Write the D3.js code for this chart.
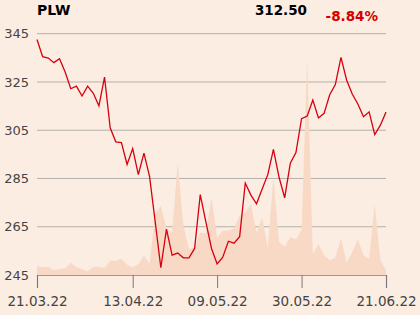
<!DOCTYPE html>
<html>
<head>
<meta charset="utf-8">
<script src="https://cdn.jsdelivr.net/npm/d3@7/dist/d3.min.js"></script>
<style>
  html, body { margin: 0; padding: 0; background: #fcede2; }
  svg { display: block; font-family: "DejaVu Sans", sans-serif; }
</style>
</head>
<body>
<svg id="chart" width="420" height="315"></svg>
<script>
// data
var ticker = 'PLW';
var lastPrice = '312.50';
var change = '-8.84%';

var dates = [
  '21.03.22','22.03.22','23.03.22','24.03.22','25.03.22','28.03.22','29.03.22','30.03.22','31.03.22',
  '01.04.22','04.04.22','05.04.22','06.04.22','07.04.22','08.04.22','11.04.22','12.04.22','13.04.22',
  '14.04.22','19.04.22','20.04.22','21.04.22','22.04.22','25.04.22','26.04.22','27.04.22','28.04.22','29.04.22',
  '02.05.22','04.05.22','05.05.22','06.05.22','09.05.22','10.05.22','11.05.22','12.05.22','13.05.22',
  '16.05.22','17.05.22','18.05.22','19.05.22','20.05.22','23.05.22','24.05.22','25.05.22','26.05.22','27.05.22',
  '30.05.22','31.05.22','01.06.22','02.06.22','03.06.22','06.06.22','07.06.22','08.06.22','09.06.22','10.06.22',
  '13.06.22','14.06.22','15.06.22','17.06.22','20.06.22','21.06.22'
];

var prices = [
  342.6, 335.5, 334.9, 333.0, 334.6, 329.1, 322.2, 323.3, 319.2,
  323.3, 320.3, 315.1, 327.0, 306.0, 300.2, 299.9, 290.8, 297.4,
  286.6, 295.5, 285.8, 267.0, 248.0, 264.0, 253.2, 254.1, 252.1, 252.1,
  256.0, 278.3, 267.0, 256.0, 249.6, 252.4, 259.0, 258.2, 260.9,
  283.1, 278.1, 274.5, 280.6, 286.6, 297.1, 285.5, 277.0, 291.3, 295.7,
  309.8, 310.9, 317.5, 310.1, 312.0, 319.7, 323.9, 335.2, 325.8, 320.0,
  315.9, 310.6, 312.6, 303.2, 307.1, 312.5
];

// volume, thousand shares
var volumes = [
  9.0, 7.7, 8.3, 5.0, 5.7, 6.7, 12.3, 7.7, 5.7,
  3.7, 8.3, 8.3, 7.0, 14.3, 14.3, 16.3, 10.3, 7.7,
  11.0, 19.5, 11.7, 61.7, 70.0, 47.0, 43.0, 113.7, 50.0, 26.0,
  28.3, 43.0, 42.0, 78.3, 37.7, 45.0, 45.0, 47.0, 60.0,
  63.0, 71.7, 43.0, 58.3, 27.5, 98.3, 33.5, 28.5, 38.0, 36.0,
  46.0, 218.0, 21.0, 31.0, 20.0, 15.0, 17.7, 37.0, 12.3, 23.0,
  36.3, 20.0, 16.3, 71.7, 15.0, 5.0
];

var yTicks = [245, 265, 285, 305, 325, 345];
var xTicks = ['21.03.22', '13.04.22', '09.05.22', '30.05.22', '21.06.22'];

var data = dates.map(function(d, i) {
  return { date: d, price: prices[i], volume: volumes[i] };
});

// layout
var plotLeft = 37, plotRight = 386, plotTop = 33.7, plotBottom = 275;

var svg = d3.select('#chart');

var x = d3.scalePoint()
  .domain(dates)
  .range([plotLeft, plotRight]);

var y = d3.scaleLinear()
  .domain([245, 345])
  .range([plotBottom, plotTop]);

var yVol = d3.scaleLinear()
  .domain([0, 220])
  .range([plotBottom, 57]);

// gridlines
svg.append('g')
  .selectAll('line')
  .data(yTicks.slice(1))
  .enter()
  .append('line')
  .attr('x1', plotLeft)
  .attr('x2', plotRight)
  .attr('y1', function(d){ return y(d) })
  .attr('y2', function(d){ return y(d) })
  .attr('stroke', '#b5b0ab')
  .attr('stroke-width', 1);

// volume area
var area = d3.area()
  .x(function(d){ return x(d.date) })
  .y0(plotBottom)
  .y1(function(d){ return yVol(d.volume) });

svg.append('path')
  .datum(data)
  .attr('d', area)
  .attr('fill', '#f8d9c5');

// y axis labels
svg.append('g')
  .selectAll('text')
  .data(yTicks)
  .enter()
  .append('text')
  .attr('x', 29)
  .attr('y', function(d){ return y(d) })
  .attr('dy', '0.36em')
  .attr('text-anchor', 'end')
  .attr('font-size', '13px')
  .attr('fill', '#444')
  .text(function(d){ return d });

// x axis
var xAxis = d3.axisBottom(x)
  .tickValues(xTicks)
  .tickSize(13)
  .tickPadding(8);

var gx = svg.append('g')
  .attr('transform', 'translate(0,' + plotBottom + ')')
  .call(xAxis);

gx.select('.domain').attr('stroke', '#999').attr('stroke-width', 1.2);
gx.selectAll('.tick line').attr('stroke', '#777');
gx.selectAll('.tick text')
  .attr('font-size', '13.5px')
  .attr('font-family', '"DejaVu Sans", sans-serif')
  .attr('fill', '#444');

// price line
var line = d3.line()
  .x(function(d){ return x(d.date) })
  .y(function(d){ return y(d.price) });

svg.append('path')
  .datum(data)
  .attr('d', line)
  .attr('fill', 'none')
  .attr('stroke', '#d6000f')
  .attr('stroke-width', 1.3)
  .attr('stroke-linejoin', 'miter');

// header
svg.append('text')
  .attr('x', 37)
  .attr('y', 15)
  .attr('font-size', '14px')
  .attr('font-weight', 'bold')
  .attr('fill', '#000')
  .text(ticker);

svg.append('text')
  .attr('x', 307)
  .attr('y', 14.5)
  .attr('text-anchor', 'end')
  .attr('font-size', '13.5px')
  .attr('font-weight', 'bold')
  .attr('fill', '#000')
  .text(lastPrice);

svg.append('text')
  .attr('x', 378)
  .attr('y', 21)
  .attr('text-anchor', 'end')
  .attr('font-size', '13.5px')
  .attr('font-weight', 'bold')
  .attr('fill', '#d40000')
  .text(change);
</script>
</body>
</html>
